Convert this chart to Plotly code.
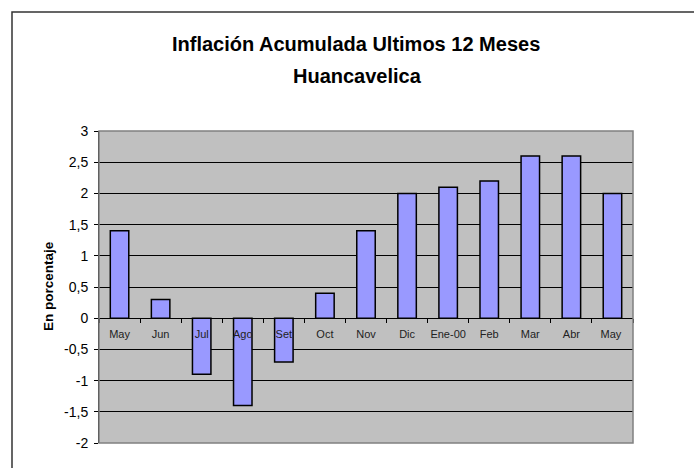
import plotly.graph_objects as go

months = ["May", "Jun", "Jul", "Ago", "Set", "Oct", "Nov", "Dic", "Ene-00", "Feb", "Mar", "Abr", "May "]
values = [1.4, 0.3, -0.9, -1.4, -0.7, 0.4, 1.4, 2.0, 2.1, 2.2, 2.6, 2.6, 2.0]
y_tickvals = [-2, -1.5, -1, -0.5, 0, 0.5, 1, 1.5, 2, 2.5, 3]
y_ticktext = ["-2", "-1,5", "-1", "-0,5", "0", "0,5", "1", "1,5", "2", "2,5", "3"]

W, H = 694, 468
L, R, T, B = 99, 61, 131, 25
pw, ph = W - L - R, H - T - B

def px_x(x):
    return (x - L) / pw

def px_y(y):
    return (H - B - y) / ph

fig = go.Figure()
fig.add_trace(go.Bar(
    x=months, y=values, width=0.45,
    marker=dict(color="#9999ff", line=dict(color="black", width=1.5)),
))

fig.update_layout(
    width=W, height=H,
    margin=dict(l=L, r=R, t=T, b=B, autoexpand=False),
    paper_bgcolor="white",
    plot_bgcolor="#c0c0c0",
    showlegend=False,
    font=dict(family="Liberation Sans, Arial, sans-serif", color="black"),
    xaxis=dict(
        type="category", anchor="free", position=0.4,
        showline=True, linecolor="black", linewidth=1,
        ticks="outside", tickson="boundaries", ticklen=4, tickcolor="black",
        tickfont=dict(size=11, color="#222"), tickangle=0, ticklabelstandoff=6,
        showgrid=False, zeroline=False,
    ),
    yaxis=dict(
        range=[-2, 3], tickvals=y_tickvals, ticktext=y_ticktext,
        showgrid=True, gridcolor="black", gridwidth=1,
        showline=True, linecolor="black", linewidth=1,
        ticks="outside", ticklen=4, tickcolor="black", ticklabelstandoff=3,
        tickfont=dict(size=14), zeroline=False,
    ),
    shapes=[
        dict(type="rect", xref="paper", yref="paper", x0=0, x1=1, y0=0, y1=1,
             line=dict(color="#808080", width=1.5), layer="above"),
        dict(type="rect", xref="paper", yref="paper",
             x0=px_x(12), x1=px_x(720), y0=px_y(500), y1=px_y(12),
             line=dict(color="#333", width=1.5)),
    ],
    annotations=[
        dict(text="<b>Inflación Acumulada Ultimos 12 Meses</b>", xref="paper", yref="paper",
             x=px_x(356), y=px_y(44), xanchor="center", yanchor="middle",
             showarrow=False, font=dict(size=20)),
        dict(text="<b>Huancavelica</b>", xref="paper", yref="paper",
             x=px_x(357), y=px_y(76), xanchor="center", yanchor="middle",
             showarrow=False, font=dict(size=20)),
        dict(text="<b>En porcentaje</b>", xref="paper", yref="paper",
             x=px_x(48), y=px_y(286), xanchor="center", yanchor="middle",
             textangle=-90, showarrow=False, font=dict(size=13.5)),
    ],
)

fig.write_html("out.html", config={"displayModeBar": False},
               post_script="document.body.style.margin='0';")
